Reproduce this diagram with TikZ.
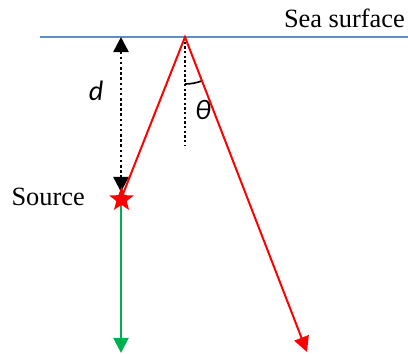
\documentclass[tikz,border=0pt]{standalone}
\usepackage{fontspec}
\setmainfont{Liberation Serif}
\newfontfamily\calfont{Carlito}
\usetikzlibrary{arrows.meta,shapes.geometric,positioning,calc}
\definecolor{seablue}{HTML}{5B8FCB}
\definecolor{raygreen}{HTML}{00B050}

\begin{document}
\begin{tikzpicture}[x=0.03cm,y=-0.03cm,
    tip/.style={-{Triangle[width=13pt,length=13pt]}},
    ray/.style={red,line width=1.7pt,tip},
    dots/.style={line width=2.2pt,dash pattern=on 2.2pt off 2.2pt},
    lab/.style={font=\fontsize{22.5}{26}\selectfont,inner sep=0pt},
    sym/.style={font=\calfont\itshape\fontsize{24}{28}\selectfont,inner sep=0pt}]
  \useasboundingbox (0,0) rectangle (408,353);
  % surface and points
  \coordinate (surfL) at (40,37);
  \coordinate (surfR) at (408,37);
  \coordinate (refl) at (185,37);
  \coordinate (srcpt) at (121,199);
  \coordinate (srctop) at (121,192);
  \coordinate (deep) at (121,353);
  \coordinate (far) at (307,352);
  \coordinate (normal) at (185,145);
  \draw[seablue,line width=1.2pt] (surfL) -- (surfR);
  \node[lab,anchor=south east] (sea) at (405,28) {Sea surface};
  % depth
  \draw[dots,{Triangle[width=13pt,length=13pt]}-{Triangle[width=13pt,length=13pt]}] (refl -| srcpt) -- (srctop);
  \node[sym] (dlab) at (96,91) {d};
  % normal and angle
  \draw[dots,line width=2pt,dash pattern=on 2pt off 2pt] (refl) -- (normal);
  \draw[line width=1.4pt] ([shift={(90:47)}]refl) arc[start angle=90,end angle=68.7,radius=47];
  \node[sym] (theta) at (203,110) {θ};
  % rays
  \draw[raygreen,line width=1.7pt,tip] (srcpt) -- (deep);
  \draw[ray] (srcpt) -- (refl) -- (far);
  \node[star,star points=5,star point ratio=2.4,fill=red,inner sep=0pt,minimum size=22pt] (src) at (121.5,199.5) {};
  \node[lab,anchor=east] (srclab) at (85,197) {Source};
\end{tikzpicture}
\end{document}
